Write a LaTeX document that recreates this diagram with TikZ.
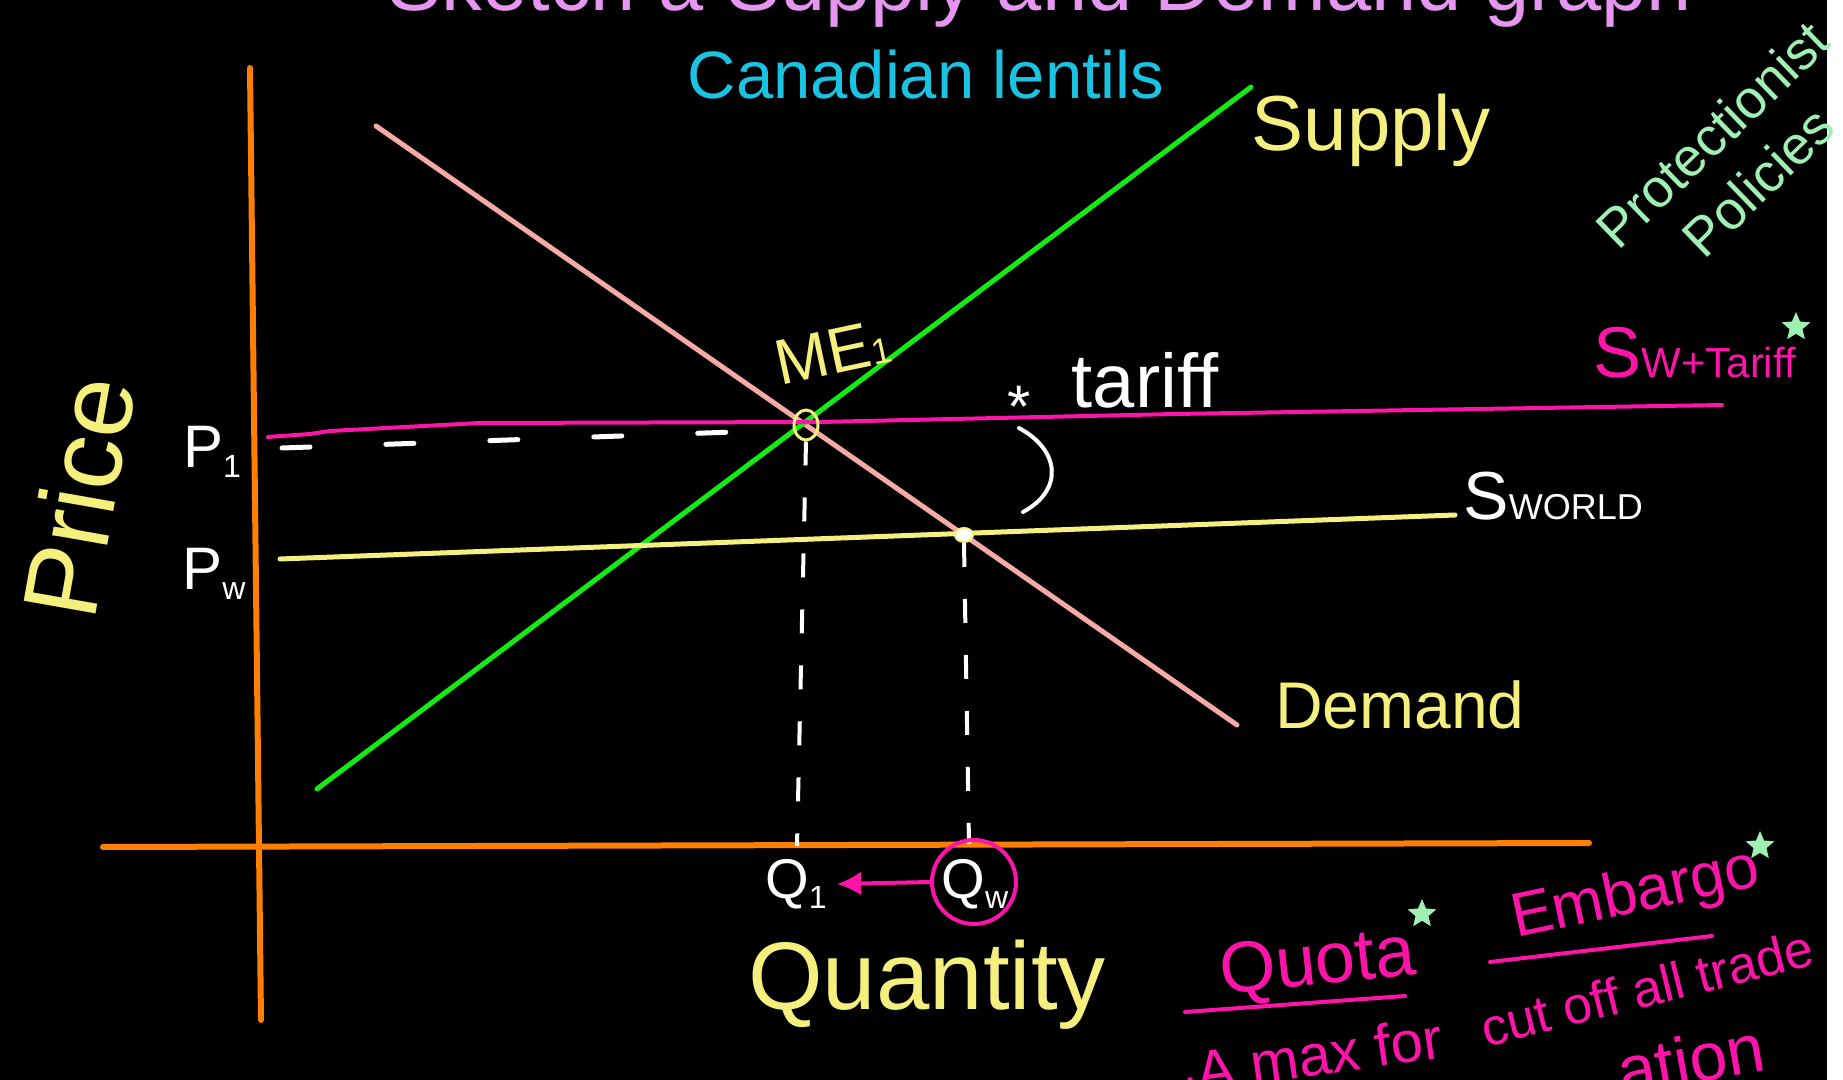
\documentclass[tikz,border=0pt]{standalone}
\usepackage{fontspec}
\setmainfont{Liberation Sans}
\usetikzlibrary{shapes.geometric,arrows.meta}

\definecolor{axisorange}{RGB}{255,128,0}
\definecolor{demandpink}{RGB}{245,170,165}
\definecolor{supplygreen}{RGB}{20,235,20}
\definecolor{penyellow}{RGB}{245,240,125}
\definecolor{tariffmagenta}{RGB}{255,20,170}
\definecolor{lentilcyan}{RGB}{25,195,225}
\definecolor{notegreen}{RGB}{160,240,180}
\definecolor{titleviolet}{RGB}{230,150,240}

\newcommand{\fs}[1]{\fontsize{#1}{#1}\selectfont}

\tikzset{
  curve/.style={line width=2.5pt, line cap=round},
  pen/.style={inner sep=0pt, text=white},
  starmark/.style={star, star points=5, star point ratio=2.2, fill=notegreen, minimum size=15pt, inner sep=0pt},
  dropline/.style={white, line width=2pt, dash pattern=on 12pt off 16pt},
}

\begin{document}
\begin{tikzpicture}[x=0.5pt,y=-0.5pt]
\fill[black] (0,0) rectangle (1843,1080);
\fill[white] (1827,0) rectangle (1843,1080);
\clip (0,0) rectangle (1843,1080);

\node[pen, text=titleviolet, anchor=base] (title) at (1040,11) {\fs{40.6}Sketch a Supply and Demand graph};

% axes
\coordinate (ytop) at (250,68);
\coordinate (ybot) at (261,1020);
\coordinate (xleft) at (103,847);
\coordinate (xright) at (1589,843);
\draw[axisorange, curve, line width=3pt] (ytop) -- (ybot);
\draw[axisorange, curve, line width=3pt] (xleft) -- (xright);

% demand, supply, world price
\coordinate (d1) at (376,126); \coordinate (d2) at (1237,725);
\coordinate (s1) at (317,789); \coordinate (s2) at (1251,87);
\coordinate (w1) at (280,559); \coordinate (w2) at (1455,515);
\draw[demandpink, curve] (d1) -- (d2);
\draw[supplygreen, curve] (s1) -- (s2);
\draw[penyellow, curve] (w1) -- (w2);

% P1 guide dashes, then world + tariff line
\coordinate (g1) at (282,448); \coordinate (g2) at (790,430);
\draw[white, line width=2.5pt, line cap=round, dash pattern=on 14pt off 38pt] (g1) -- (g2);
\draw[tariffmagenta, curve, line width=2pt] (268,437) -- (310,434) -- (330,431) -- (480,423) -- (820,422) -- (1175,414) -- (1722,405);

% equilibrium points
\node[ellipse, draw=penyellow, line width=1.5pt, minimum width=12pt, minimum height=15pt, inner sep=0pt] (me) at (806,425) {};
\node[ellipse, draw=penyellow, fill=white, line width=1pt, minimum width=9pt, minimum height=7pt, inner sep=0pt] (we) at (964,535) {};
\coordinate (q1foot) at (797,846);
\coordinate (qwfoot) at (969,844);
\draw[dropline] (me.south) -- (q1foot);
\draw[dropline] (we.south) -- (qwfoot);

% curve labels
\node[pen, text=lentilcyan] (lentils) at (926,75) {\fs{33.5}Canadian lentils};
\node[pen, text=penyellow] (supply) at (1371,130) {\fs{39}Supply};
\node[pen, text=penyellow] (demand) at (1400,705) {\fs{33}Demand};
\node[pen, anchor=base west] (sworld) at (1463,520) {\fs{34}S\fs{18}WORLD};
\node[pen, text=tariffmagenta, anchor=base west] (stariff) at (1593,378) {\fs{36}S\fs{21}W+Tariff};
\node[pen, text=notegreen, rotate=44, align=center] (policies) at (1735,158) {\fs{27}Protectionist\\[12pt]\fs{27}Policies};
\node[pen, text=penyellow, rotate=12] (melabel) at (833,352) {\fs{32}ME\fs{18}1};

% tariff gap
\node[pen] (tstar) at (1019,407) {\fs{30}*};
\node[pen] (tariff) at (1145,380) {\fs{38}tariff};
\coordinate (tend) at (1023,512);
\draw[white, curve, line width=2pt] (tstar.south) .. controls (1060,450) and (1064,490) .. (tend);

% axis labels
\node[pen] (p1) at (212,452) {\fs{30}P\fs{16}\raisebox{-5pt}{1}};
\node[pen] (pw) at (214,574) {\fs{30}P\fs{16}\raisebox{-5pt}{w}};
\node[pen] (q1) at (796,884) {\fs{28}Q\fs{16}\raisebox{-5pt}{1}};
\node[pen] (qw) at (975,884) {\fs{28}Q\fs{16}\raisebox{-5pt}{w}};
\node[circle, draw=tariffmagenta, line width=2pt, minimum size=42pt, inner sep=0pt] (qwring) at (974,882) {};
\draw[tariffmagenta, line width=2pt, -{Latex[length=12pt,width=12pt]}] (qwring.west) -- (q1.east -| 837,0);
\node[pen, text=penyellow] (quantity) at (927,985) {\fs{48}Quantity};
\node[pen, text=penyellow, rotate=80] (price) at (78,497) {\fs{53}Price};

% policy notes
\node[pen, text=tariffmagenta, rotate=6] (quota) at (1318,966) {\fs{36}Quota};
\node[pen, text=tariffmagenta, rotate=12] (embargo) at (1636,896) {\fs{31}Embargo};
\coordinate (qu1) at (1185,1012); \coordinate (qu2) at (1405,996);
\coordinate (eu1) at (1490,962); \coordinate (eu2) at (1712,936);
\draw[tariffmagenta, curve, line width=2pt] (qu1) -- (qu2);
\draw[tariffmagenta, curve, line width=2pt] (eu1) -- (eu2);
\foreach \sx/\sy in {1796/327, 1422/914, 1760/846}
  \node[starmark] at (\sx,\sy) {};
\node[pen, text=tariffmagenta, rotate=14] (cutoff) at (1647,988) {\fs{26}cut off all trade};
\node[pen, text=tariffmagenta, rotate=8, anchor=base west] (maxfor) at (1185,1094) {\fs{29}$\cdot$A max for};
\node[pen, text=tariffmagenta, rotate=10, anchor=base west] (ation) at (1622,1096) {\fs{34}ation};
\end{tikzpicture}
\end{document}
